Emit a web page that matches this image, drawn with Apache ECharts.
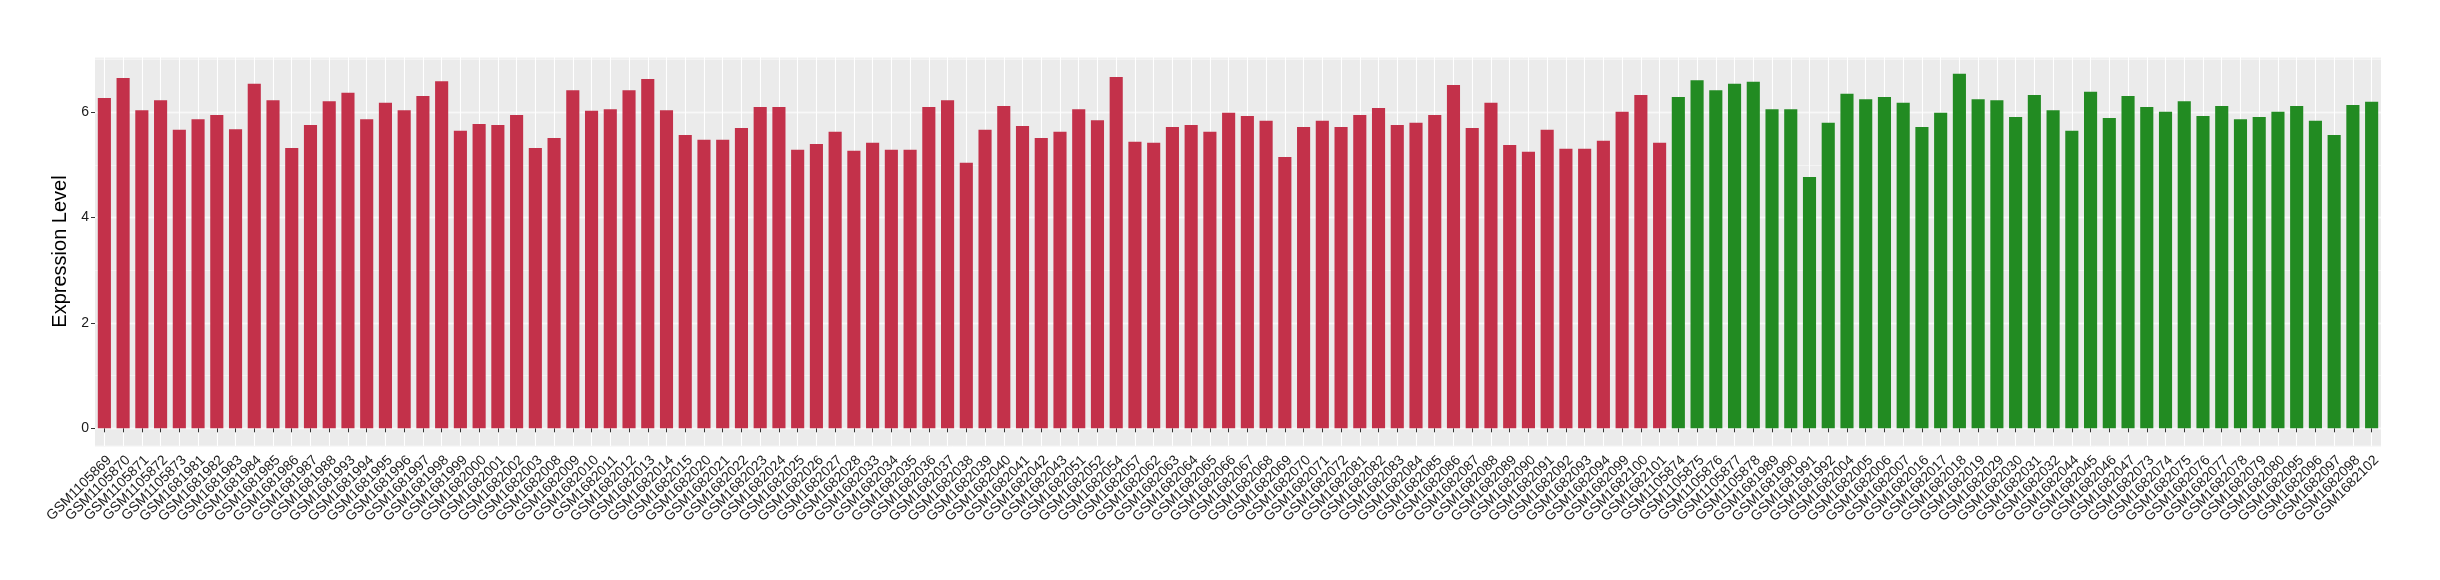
<!DOCTYPE html>
<html>
<head>
<meta charset="utf-8">
<script src="https://cdn.jsdelivr.net/npm/echarts@6/dist/echarts.min.js"></script>
<style>
html,body{margin:0;padding:0;background:#fff;}
#chart{width:2440px;height:580px;}
</style>
</head>
<body>
<div id="chart"></div>
<script>
const redSamples = ["GSM1105869","GSM1105870","GSM1105871","GSM1105872","GSM1105873","GSM1681981","GSM1681982","GSM1681983","GSM1681984","GSM1681985","GSM1681986","GSM1681987","GSM1681988","GSM1681993","GSM1681994","GSM1681995","GSM1681996","GSM1681997","GSM1681998","GSM1681999","GSM1682000","GSM1682001","GSM1682002","GSM1682003","GSM1682008","GSM1682009","GSM1682010","GSM1682011","GSM1682012","GSM1682013","GSM1682014","GSM1682015","GSM1682020","GSM1682021","GSM1682022","GSM1682023","GSM1682024","GSM1682025","GSM1682026","GSM1682027","GSM1682028","GSM1682033","GSM1682034","GSM1682035","GSM1682036","GSM1682037","GSM1682038","GSM1682039","GSM1682040","GSM1682041","GSM1682042","GSM1682043","GSM1682051","GSM1682052","GSM1682054","GSM1682057","GSM1682062","GSM1682063","GSM1682064","GSM1682065","GSM1682066","GSM1682067","GSM1682068","GSM1682069","GSM1682070","GSM1682071","GSM1682072","GSM1682081","GSM1682082","GSM1682083","GSM1682084","GSM1682085","GSM1682086","GSM1682087","GSM1682088","GSM1682089","GSM1682090","GSM1682091","GSM1682092","GSM1682093","GSM1682094","GSM1682099","GSM1682100","GSM1682101"];
const redValues = [6.27,6.65,6.04,6.23,5.67,5.87,5.95,5.68,6.54,6.23,5.32,5.76,6.21,6.37,5.87,6.18,6.04,6.31,6.59,5.65,5.78,5.76,5.95,5.32,5.51,6.42,6.03,6.06,6.42,6.63,6.04,5.57,5.48,5.48,5.70,6.10,6.10,5.29,5.40,5.63,5.27,5.42,5.29,5.29,6.10,6.23,5.04,5.67,6.12,5.74,5.51,5.63,6.06,5.85,6.67,5.44,5.42,5.72,5.76,5.63,5.99,5.93,5.84,5.15,5.72,5.84,5.72,5.95,6.08,5.76,5.80,5.95,6.52,5.70,6.18,5.38,5.25,5.67,5.31,5.31,5.46,6.01,6.33,5.42];
const greenSamples = ["GSM1105874","GSM1105875","GSM1105876","GSM1105877","GSM1105878","GSM1681989","GSM1681990","GSM1681991","GSM1681992","GSM1682004","GSM1682005","GSM1682006","GSM1682007","GSM1682016","GSM1682017","GSM1682018","GSM1682019","GSM1682029","GSM1682030","GSM1682031","GSM1682032","GSM1682044","GSM1682045","GSM1682046","GSM1682047","GSM1682073","GSM1682074","GSM1682075","GSM1682076","GSM1682077","GSM1682078","GSM1682079","GSM1682080","GSM1682095","GSM1682096","GSM1682097","GSM1682098","GSM1682102"];
const greenValues = [6.29,6.61,6.42,6.54,6.58,6.06,6.06,4.77,5.80,6.35,6.25,6.29,6.18,5.72,5.99,6.73,6.25,6.23,5.91,6.33,6.04,5.65,6.39,5.89,6.31,6.10,6.01,6.21,5.93,6.12,5.87,5.91,6.01,6.12,5.84,5.57,6.14,6.20];
const yTitle = "Expression Level";

const categories = redSamples.concat(greenSamples);
const redData = redValues.concat(greenSamples.map(() => '-'));
const greenData = redSamples.map(() => '-').concat(greenValues);

const chart = echarts.init(document.getElementById('chart'), null, {renderer: 'canvas'});
const font = "'Liberation Sans', Arial, Helvetica, sans-serif";
chart.setOption({
  animation: false,
  backgroundColor: '#ffffff',
  grid: {
    left: 95, right: 59, top: 57, bottom: 134,
    show: true, backgroundColor: '#EBEBEB', borderWidth: 0
  },
  xAxis: {
    type: 'category',
    data: categories,
    boundaryGap: true,
    axisLine: {show: false},
    axisTick: {show: true, alignWithLabel: true, length: 4, lineStyle: {color: '#333333', width: 1}},
    splitLine: {show: true, alignWithLabel: true, lineStyle: {color: '#ffffff', width: 1.1}},
    axisLabel: {
      interval: 0, rotate: 45, margin: 7,
      align: 'right', verticalAlign: 'top',
      fontFamily: font, fontSize: 14, color: '#1a1a1a'
    }
  },
  yAxis: [{
    type: 'value',
    min: -0.336, max: 7.05,
    minInterval: 2, maxInterval: 2, splitNumber: 4,
    name: yTitle,
    nameLocation: 'middle',
    nameRotate: 90,
    nameGap: 15,
    nameTextStyle: {fontFamily: font, fontSize: 20, color: '#000000'},
    axisLine: {show: false},
    axisTick: {show: true, length: 4, lineStyle: {color: '#333333', width: 1}},
    axisLabel: {showMinLabel: false, showMaxLabel: false, margin: 6, fontFamily: font, fontSize: 14, color: '#1a1a1a'},
    splitLine: {show: true, lineStyle: {color: '#ffffff', width: 1.3}}
  }, {
    type: 'value',
    min: -0.336, max: 7.05,
    minInterval: 1, maxInterval: 1, splitNumber: 7,
    axisLine: {show: false},
    axisTick: {show: false},
    axisLabel: {show: false},
    splitLine: {show: true, lineStyle: {color: '#F6F6F6', width: 0.8}}
  }],
  series: [{
    type: 'bar',
    data: redData,
    barWidth: '70%',
    barGap: '-100%',
    itemStyle: {color: '#C3314A'},
    z: 3
  }, {
    type: 'bar',
    data: greenData,
    barWidth: '70%',
    barGap: '-100%',
    itemStyle: {color: '#228B22'},
    z: 3
  }]
});
</script>
</body>
</html>
